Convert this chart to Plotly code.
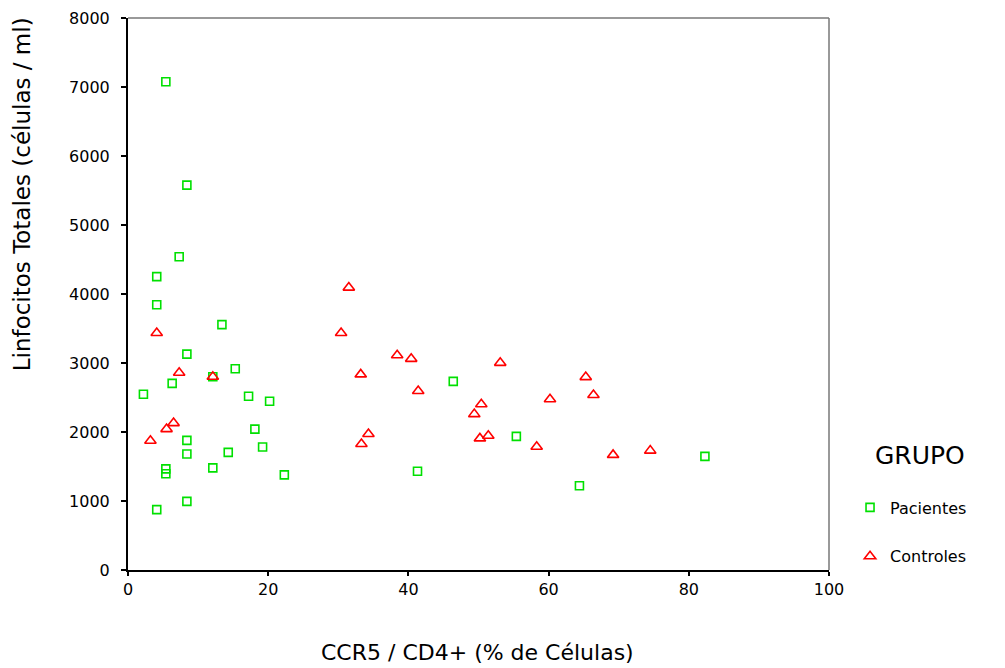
import plotly.graph_objects as go

# Pacientes (green squares)
pac_x = [5.4, 8.4, 7.3, 4.1, 4.1, 13.4, 8.4, 6.3, 2.2, 12.1, 15.3, 17.2, 20.2, 18.1,
         8.4, 19.2, 8.4, 14.3, 5.4, 5.4, 12.1, 22.3, 8.4, 4.1, 46.4, 41.3, 55.4, 64.4, 82.3]
pac_y = [7077, 5578, 4540, 4252, 3844, 3556, 3128, 2705, 2547, 2800, 2916, 2518, 2446, 2042,
         1878, 1783, 1682, 1705, 1466, 1394, 1480, 1379, 994, 875, 2734, 1431, 1936, 1221, 1647]

# Controles (red triangles)
con_x = [4.1, 7.3, 12.1, 6.5, 5.5, 3.2, 31.5, 30.4, 33.2, 38.4, 40.4, 53.1, 41.4, 50.4,
         49.4, 34.3, 33.3, 50.2, 51.4, 58.3, 60.2, 65.3, 66.4, 69.2, 74.5]
con_y = [3435, 2858, 2800, 2129, 2042, 1874, 4093, 3435, 2835, 3113, 3060, 3002, 2594, 2403,
         2259, 1970, 1826, 1907, 1946, 1787, 2475, 2796, 2537, 1668, 1730]

x_ticks = [0, 20, 40, 60, 80, 100]
y_ticks = [0, 1000, 2000, 3000, 4000, 5000, 6000, 7000, 8000]

FONT = "DejaVu Sans, Verdana, sans-serif"

fig = go.Figure()
fig.add_trace(go.Scatter(
    x=pac_x, y=pac_y, mode="markers", name="Pacientes", legendgroup="p",
    marker=dict(symbol="square-open", size=8, color="#00e000", line=dict(width=1.6, color="#00e000")),
))
fig.add_trace(go.Scatter(
    x=con_x, y=con_y, mode="markers", name="Controles", legendgroup="c",
    marker=dict(symbol="triangle-up-open", size=10, color="#ff0000", line=dict(width=1.6, color="#ff0000")),
))

fig.update_layout(
    width=997, height=660,
    margin=dict(l=120, r=176, t=10, b=98, autoexpand=False),
    paper_bgcolor="white", plot_bgcolor="white",
    font=dict(family=FONT, color="black", size=16),
    showlegend=True,
    legend=dict(
        x=1.03, y=0.144, xanchor="left", yanchor="top",
        font=dict(size=16, family=FONT, color="black"),
        tracegroupgap=25, bgcolor="rgba(0,0,0,0)",
    ),
    xaxis=dict(
        range=[0, 100], tickvals=x_ticks, ticktext=[str(v) for v in x_ticks],
        showgrid=False, zeroline=False, showline=True, linecolor="black", linewidth=2,
        ticks="outside", ticklen=4, tickwidth=2, tickcolor="black", automargin=False,
        ticklabeloverflow="allow",
        tickfont=dict(size=16, family=FONT),
    ),
    yaxis=dict(
        range=[0, 8000], tickvals=y_ticks, ticktext=[str(v) for v in y_ticks],
        showgrid=False, zeroline=False, showline=True, linecolor="black", linewidth=2,
        ticks="outside", ticklen=5, tickwidth=2, tickcolor="black", automargin=False,
        ticklabelstandoff=8, ticklabeloverflow="allow",
        tickfont=dict(size=16, family=FONT),
    ),
    shapes=[
        dict(type="line", xref="paper", yref="paper", x0=0, x1=1, y0=1, y1=1,
             line=dict(color="#777777", width=1.5)),
        dict(type="line", xref="paper", yref="paper", x0=1, x1=1, y0=0, y1=1,
             line=dict(color="#777777", width=1.5)),
    ],
    annotations=[
        dict(text="CCR5 / CD4+ (% de Células)", xref="paper", yref="paper",
             x=0.499, y=-0.15, xanchor="center", yanchor="middle", showarrow=False,
             font=dict(size=22, family=FONT)),
        dict(text="Linfocitos Totales (células / ml)", xref="paper", yref="paper",
             x=-0.151, y=0.681, xanchor="center", yanchor="middle", showarrow=False,
             textangle=-90, font=dict(size=23, family=FONT)),
        dict(text="GRUPO", xref="paper", yref="paper",
             x=1.063, y=0.208, xanchor="left", yanchor="middle", showarrow=False,
             font=dict(size=25, family=FONT)),
    ],
)

fig.write_html("out.html")
